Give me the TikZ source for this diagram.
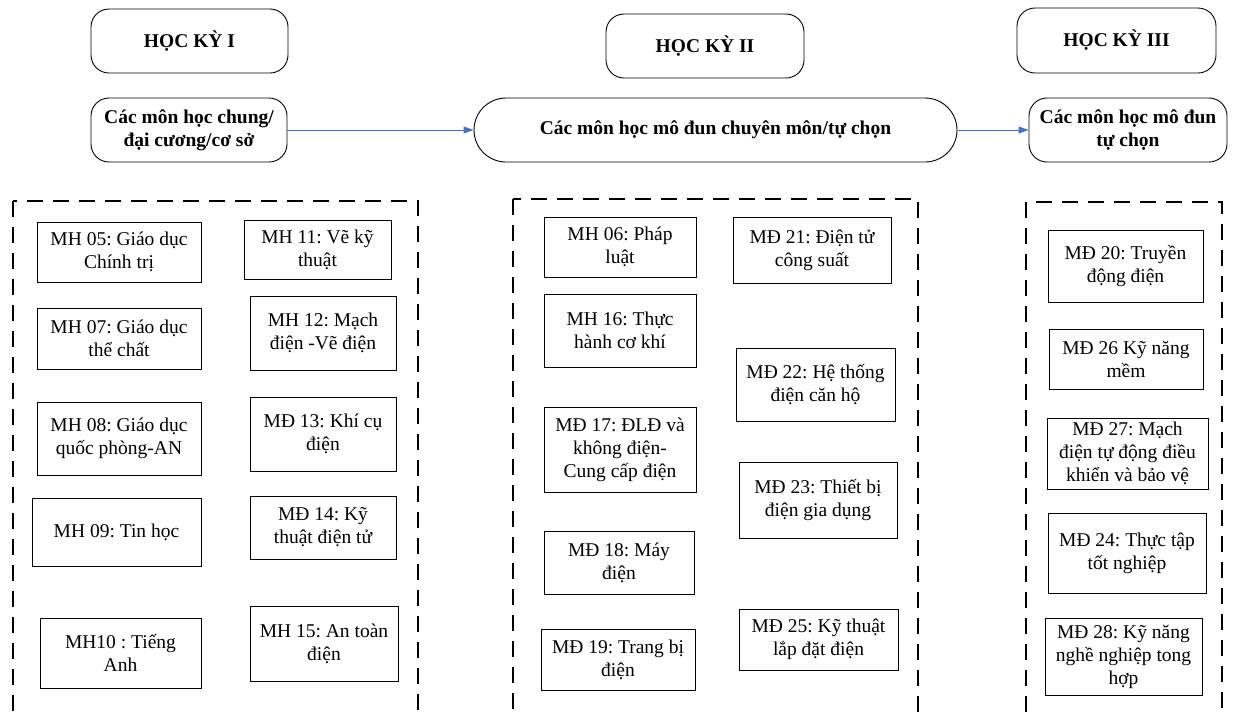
\documentclass[tikz,border=0pt]{standalone}
\usepackage{fontspec}
\setmainfont{Liberation Serif}
\usetikzlibrary{arrows.meta}
\frenchspacing

\definecolor{flowblue}{RGB}{68,114,196}

\tikzset{
    subj/.style 2 args={draw, black, line width=0.9pt, align=center, inner sep=0pt,
        minimum width=#1, minimum height=#2, font=\fontsize{19.5}{23}\selectfont},
    head/.style 2 args={subj={#1}{#2}, rounded corners=18,
        font=\fontsize{19.5}{23}\selectfont\bfseries},
    flow/.style={draw=flowblue, line width=0.9pt, -{Triangle[length=10pt, width=7pt]}},
    grpbox/.style={draw, black, line width=2.6pt, dash pattern=on 16pt off 10pt},
}

\begin{document}
\begin{tikzpicture}[x=1pt, y=-1pt]
        \useasboundingbox (0,0) rectangle (1237,713);
        \clip (0,0) rectangle (1237,713);

        \node[head={197}{64}] (hk1) at (189.5,41) {HỌC KỲ I};
        \node[head={198}{64}] (hk2) at (705,46) {HỌC KỲ II};
        \node[head={199}{65}] (hk3) at (1116.5,40.5) {HỌC KỲ III};

        \node[head={196}{64}] (grp1) at (189,130) {Các môn học chung/\\đại cương/cơ sở};
        \node[head={483}{64}, rounded corners=32] (grp2) at (715.5,130) {Các môn học mô đun chuyên môn/tự chọn};
        \node[head={198}{64}] (grp3) at (1128,130) {Các môn học mô đun\\tự chọn};

        \draw[flow] (grp1) -- (grp2);
        \draw[flow] (grp2) -- (grp3);

        \draw[grpbox] (13,201) rectangle (418,760);
        \draw[grpbox] (513,199) rectangle (918,760);
        \draw[grpbox] (1026,202) rectangle (1222,760);

        \node[subj={164}{60}] (mh05) at (119,252) {MH 05: Giáo dục\\Chính trị};
        \node[subj={164}{61}] (mh07) at (119,338.5) {MH 07: Giáo dục\\thể chất};
        \node[subj={164}{73}] (mh08) at (119,438.5) {MH 08: Giáo dục\\quốc phòng-AN};
        \node[subj={169}{68}] (mh09) at (116.5,532) {MH 09: Tin học};
        \node[subj={161}{70}] (mh10) at (120.5,653) {MH10 : Tiếng\\Anh};

        \node[subj={147}{59}] (mh11) at (317.5,249.5) {MH 11: Vẽ kỹ\\thuật};
        \node[subj={146}{74}] (mh12) at (323,333) {MH 12: Mạch\\điện -Vẽ điện};
        \node[subj={146}{74}] (md13) at (323,434) {MĐ 13: Khí cụ\\điện};
        \node[subj={146}{63}] (md14) at (323,527.5) {MĐ 14: Kỹ\\thuật điện tử};
        \node[subj={148}{75}] (mh15) at (324,643.5) {MH 15: An toàn\\điện};

        \node[subj={152}{60}] (mh06) at (620,247) {MH 06: Pháp\\luật};
        \node[subj={152}{73}] (mh16) at (620,330.5) {MH 16: Thực\\hành cơ khí};
        \node[subj={152}{85}] (md17) at (620,449.5) {MĐ 17: ĐLĐ và\\không điện-\\Cung cấp điện};
        \node[subj={150}{63}] (md18) at (619,562.5) {MĐ 18: Máy\\điện};
        \node[subj={154}{61}] (md19) at (618,659.5) {MĐ 19: Trang bị\\điện};

        \node[subj={158}{66}] (md21) at (812,250) {MĐ 21: Điện tử\\công suất};
        \node[subj={159}{73}] (md22) at (815.5,384.5) {MĐ 22: Hệ thống\\điện căn hộ};
        \node[subj={158}{76}] (md23) at (818,500) {MĐ 23: Thiết bị\\điện gia dụng};
        \node[subj={159}{61}] (md25) at (818.5,639.5) {MĐ 25: Kỹ thuật\\lắp đặt điện};

        \node[subj={155}{72}] (md20) at (1125.5,266) {MĐ 20: Truyền\\động điện};
        \node[subj={154}{60}] (md26) at (1126,359) {MĐ 26 Kỹ năng\\mềm};
        \node[subj={161}{71}] (md27) at (1127.5,453.5) {MĐ 27: Mạch\\điện tự động điều\\khiển và bảo vệ};
        \node[subj={158}{80}] (md24) at (1127,553) {MĐ 24: Thực tập\\tốt nghiệp};
        \node[subj={157}{77}] (md28) at (1123.5,656.5) {MĐ 28: Kỹ năng\\nghề nghiệp tong\\hợp};
    \end{tikzpicture}
\end{document}
